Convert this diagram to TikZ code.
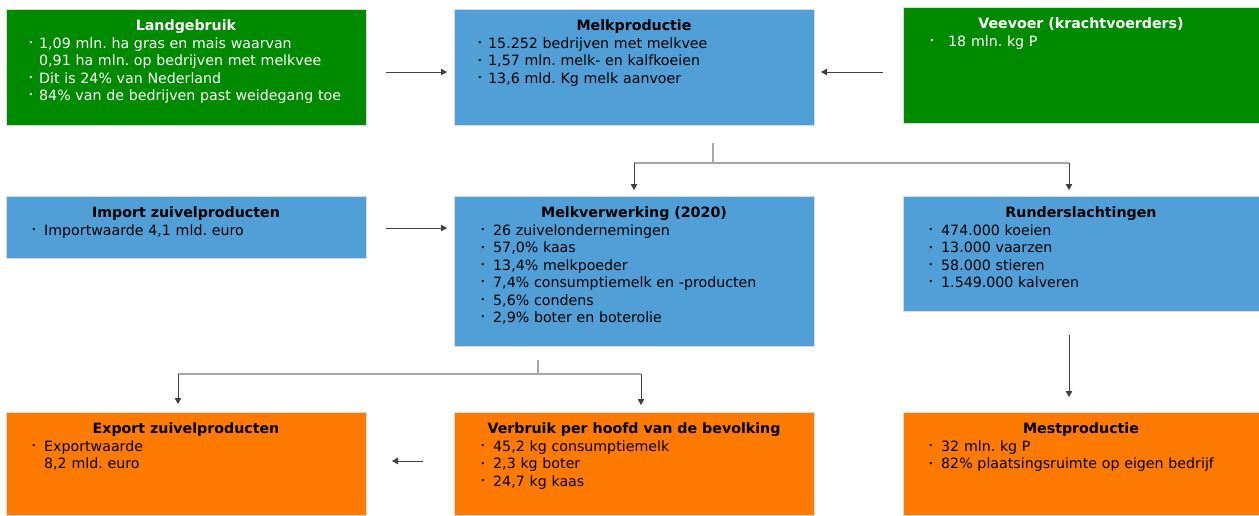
\documentclass[tikz,border=0pt]{standalone}
\usepackage{fontspec}
\setmainfont{DejaVu Sans}
\frenchspacing
\usetikzlibrary{arrows.meta,calc}
\definecolor{cgreen}{HTML}{008A00}
\definecolor{cblue}{HTML}{509FD7}
\definecolor{corange}{HTML}{FF7A00}
\definecolor{cline}{HTML}{404040}
\definecolor{ctree}{HTML}{A6A6A6}
\newcommand\smb{\raisebox{0.2em}{\scalebox{0.55}{•}}}
\newcommand\bu[1]{\leavevmode\llap{\smb\hspace{#1}}}
\begin{document}
\begin{tikzpicture}[x=1pt,y=-1pt,
  box/.style={anchor=north west, inner sep=0pt, outer sep=0pt, draw=black!15, line width=0.4pt},
  ttl/.style={anchor=base, inner sep=0pt, font=\fontsize{14.2}{17.4}\selectfont\bfseries},
  bdy/.style={anchor=base west, inner sep=0pt, align=left, text width=#1, font=\fontsize{14.2}{17.4}\selectfont\frenchspacing},
  conn/.style={draw=cline, line width=0.8pt, -{Triangle[length=6pt,width=6.5pt]}},
  tree/.style={draw=ctree, line width=1.1pt}]
\useasboundingbox (0,0) rectangle (1259,515);
% boxes
\node[box, fill=cgreen, minimum width=360pt, minimum height=116pt] (land) at (6,9) {};
\node[box, fill=cblue, minimum width=360pt, minimum height=116pt] (melk) at (454,9) {};
\node[box, fill=cgreen, minimum width=356pt, minimum height=116pt] (veev) at (903,7) {};
\node[box, fill=cblue, minimum width=360pt, minimum height=62pt] (imp) at (6,196) {};
\node[box, fill=cblue, minimum width=360pt, minimum height=150pt] (verw) at (454,196) {};
\node[box, fill=cblue, minimum width=356pt, minimum height=115pt] (rund) at (903,196) {};
\node[box, fill=corange, minimum width=360pt, minimum height=103pt] (exp) at (6,412) {};
\node[box, fill=corange, minimum width=360pt, minimum height=103pt] (verb) at (454,412) {};
\node[box, fill=corange, minimum width=356pt, minimum height=103pt] (mest) at (903,412) {};
% titles
\node[ttl, text=white] (landT) at ($(land.north)+(0,21)$) {Landgebruik};
\node[ttl] (melkT) at ($(melk.north)+(0,21)$) {Melkproductie};
\node[ttl, text=white] (veevT) at ($(veev.north)+(0,21)$) {Veevoer (krachtvoerders)};
\node[ttl] (impT) at ($(imp.north)+(0,21)$) {Import zuivelproducten};
\node[ttl] (verwT) at ($(verw.north)+(0,21)$) {Melkverwerking (2020)};
\node[ttl] (rundT) at ($(rund.north)+(0,21)$) {Runderslachtingen};
\node[ttl] (expT) at ($(exp.north)+(0,21)$) {Export zuivelproducten};
\node[ttl] (verbT) at ($(verb.north)+(0,21)$) {Verbruik per hoofd van de bevolking};
\node[ttl] (mestT) at ($(mest.north)+(0,21)$) {Mestproductie};
% bodies
\node[bdy=325pt, text=white] (landB) at ($(land.north west)+(33,39.5)$)
 {\bu{6pt}1,09 mln. ha gras en mais waarvan\\0,91 ha mln. op bedrijven met melkvee\\\bu{6pt}Dit is 24\% van Nederland\\\bu{6pt}84\% van de bedrijven past weidegang toe};
\node[bdy=320pt] (melkB) at ($(melk.north west)+(34,39.5)$)
 {\bu{6pt}15.252 bedrijven met melkvee\\\bu{6pt}1,57 mln. melk- en kalfkoeien\\\bu{6pt}13,6 mld. Kg melk aanvoer};
\node[bdy=300pt, text=white] (veevB) at ($(veev.north west)+(45,39.5)$)
 {\bu{14pt}18 mln. kg P};
\node[bdy=320pt] (impB) at ($(imp.north west)+(38,39.5)$)
 {\bu{8pt}Importwaarde 4,1 mld. euro};
\node[bdy=320pt] (verwB) at ($(verw.north west)+(39,39.5)$)
 {\bu{8pt}26 zuivelondernemingen\\\bu{8pt}57,0\% kaas\\\bu{8pt}13,4\% melkpoeder\\\bu{8pt}7,4\% consumptiemelk en -producten\\\bu{8pt}5,6\% condens\\\bu{8pt}2,9\% boter en boterolie};
\node[bdy=315pt] (rundB) at ($(rund.north west)+(38,39.5)$)
 {\bu{8pt}474.000 koeien\\\bu{8pt}13.000 vaarzen\\\bu{8pt}58.000 stieren\\\bu{8pt}1.549.000 kalveren};
\node[bdy=320pt] (expB) at ($(exp.north west)+(38,39.5)$)
 {\bu{8pt}Exportwaarde\\8,2 mld. euro};
\node[bdy=320pt] (verbB) at ($(verb.north west)+(39,39.5)$)
 {\bu{8pt}45,2 kg consumptiemelk\\\bu{8pt}2,3 kg boter\\\bu{8pt}24,7 kg kaas};
\node[bdy=315pt] (mestB) at ($(mest.north west)+(38,39.5)$)
 {\bu{8pt}32 mln. kg P\\\bu{8pt}82\% plaatsingsruimte op eigen bedrijf};
% connectors
\draw[conn] ($(land.east)+(20,5)$) -- ($(melk.west)+(-7,5)$);
\draw[conn] ($(veev.west)+(-20,7)$) -- ($(melk.east)+(7,5)$);
\coordinate (f1) at ($(melk.south)+(79,38)$);
\draw[tree] ($(melk.south)+(79,18)$) -- (f1);
\draw[tree] (verw.north |- f1) -- ($(rund.north |- f1)+(-12,0)$);
\draw[conn] (verw.north |- f1) -- ($(verw.north)+(0,-6)$);
\draw[conn] ($(rund.north |- f1)+(-12,0)$) -- ($(rund.north)+(-12,-6)$);
\draw[conn] ($(imp.east)+(20,1)$) -- ($(verw.west |- imp.east)+(-7,1)$);
\coordinate (f2) at ($(verw.south)+(-96,28)$);
\draw[tree] ($(verw.south)+(-96,14)$) -- (f2);
\draw[tree] ($(exp.north |- f2)+(-8,0)$) -- ($(verb.north |- f2)+(7,0)$);
\draw[conn] ($(exp.north |- f2)+(-8,0)$) -- ($(exp.north)+(-8,-8)$);
\draw[conn] ($(verb.north |- f2)+(7,0)$) -- ($(verb.north)+(7,-7)$);
\draw[conn] ($(rund.south)+(-12,24)$) -- ($(mest.north)+(-12,-15)$);
\draw[conn] ($(verb.west)+(-31,-2.5)$) -- ($(exp.east)+(26,-2.5)$);
\end{tikzpicture}
\end{document}
